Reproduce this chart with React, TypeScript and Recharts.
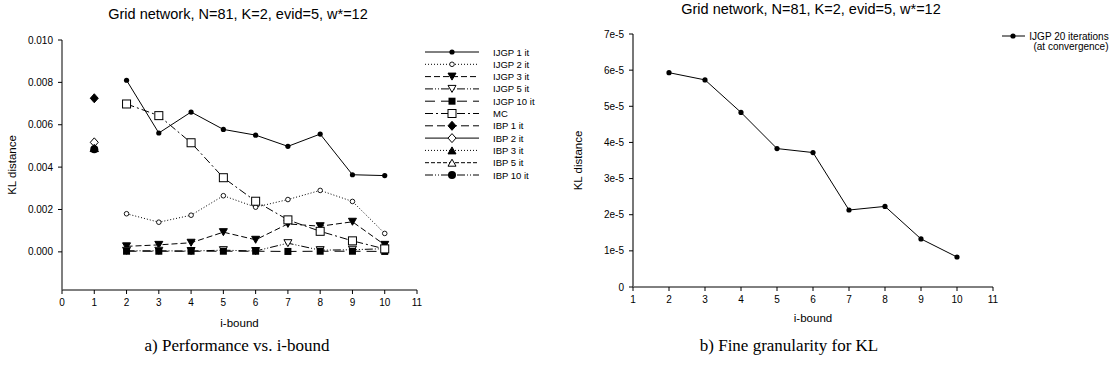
import React from "react";
import { Line, LineChart, XAxis, YAxis } from "recharts";

const FONT = "'Liberation Sans', Arial, sans-serif";
const SERIF = "'Liberation Serif', 'Times New Roman', serif";

// left chart: KL distance per i-bound
const iBounds = [2, 3, 4, 5, 6, 7, 8, 9, 10];
const ijgp1 = [0.0081, 0.00561, 0.0066, 0.00578, 0.00551, 0.00498, 0.00556, 0.00364, 0.0036];
const ijgp2 = [0.0018, 0.0014, 0.00173, 0.00265, 0.00211, 0.00247, 0.0029, 0.00238, 0.00087];
const ijgp3 = [0.00026, 0.00033, 0.00043, 0.00093, 0.00057, 0.00132, 0.00121, 0.00142, 0.00033];
const ijgp5 = [0.00005, 0.00005, 0.00004, 0.00008, 0.00004, 0.00041, 0.00008, 0.0001, 0.00015];
const ijgp10 = [0.00003, 0.00003, 0.00003, 0.00003, 0.00003, 0.00002, 0.00003, 0.00003, 0.00002];
const mc = [0.00698, 0.00643, 0.00515, 0.0035, 0.00239, 0.00151, 0.00097, 0.00052, 0.00014];

// IBP only at i-bound 1
const ibpBound = 1;
const ibpKeys = ["ibp1", "ibp2", "ibp3", "ibp5", "ibp10"];
const ibpValues = [0.00725, 0.00517, 0.0049, 0.0049, 0.00484];

const leftXTicks = [0, 1, 2, 3, 4, 5, 6, 7, 8, 9, 10, 11];
const leftYTicks = [0, 0.002, 0.004, 0.006, 0.008, 0.01];

// right chart: IJGP 20 iterations
const ijgp20 = [5.93e-5, 5.73e-5, 4.83e-5, 3.83e-5, 3.72e-5, 2.13e-5, 2.23e-5, 1.33e-5, 0.83e-5];
const rightXTicks = [1, 2, 3, 4, 5, 6, 7, 8, 9, 10, 11];
const rightYTicks = [0, 1e-5, 2e-5, 3e-5, 4e-5, 5e-5, 6e-5, 7e-5];

const series = [
  { key: "ijgp1", name: "IJGP 1 it", dash: undefined, shape: "dot" },
  { key: "ijgp2", name: "IJGP 2 it", dash: "1 2", shape: "circle" },
  { key: "ijgp3", name: "IJGP 3 it", dash: "6 3", shape: "triDown" },
  { key: "ijgp5", name: "IJGP 5 it", dash: "8 2 1 2 1 2", shape: "triDownOpen" },
  { key: "ijgp10", name: "IJGP 10 it", dash: "10 6", shape: "square" },
  { key: "mc", name: "MC", dash: "8 3 2 3", shape: "squareOpen" },
  { key: "ibp1", name: "IBP 1 it", dash: "8 4", shape: "diamond" },
  { key: "ibp2", name: "IBP 2 it", dash: undefined, shape: "diamondOpen" },
  { key: "ibp3", name: "IBP 3 it", dash: "1 2", shape: "tri" },
  { key: "ibp5", name: "IBP 5 it", dash: "4 2", shape: "triOpen" },
  { key: "ibp10", name: "IBP 10 it", dash: "8 2 1 2 1 2", shape: "bigDot" },
];

const leftData: Record<string, number>[] = [
  Object.fromEntries([["x", ibpBound], ...ibpKeys.map((k, i) => [k, ibpValues[i]])]),
  ...iBounds.map((b, i) => ({
    x: b,
    ijgp1: ijgp1[i],
    ijgp2: ijgp2[i],
    ijgp3: ijgp3[i],
    ijgp5: ijgp5[i],
    ijgp10: ijgp10[i],
    mc: mc[i],
  })),
];

const rightData = iBounds.map((b, i) => ({ x: b, ijgp20: ijgp20[i] }));

function Marker({ shape, cx, cy }: { shape: string; cx: number; cy: number }) {
  const k = "#000";
  switch (shape) {
    case "dot":
      return <circle cx={cx} cy={cy} r={2.6} fill={k} />;
    case "circle":
      return <circle cx={cx} cy={cy} r={2.3} fill="#fff" stroke={k} strokeWidth={0.9} />;
    case "triDown":
    case "triDownOpen":
      return (
        <polygon
          points={`${cx - 4},${cy - 3.5} ${cx + 4},${cy - 3.5} ${cx},${cy + 3.5}`}
          fill={shape === "triDown" ? k : "#fff"}
          stroke={k}
          strokeWidth={1}
        />
      );
    case "tri":
    case "triOpen":
      return (
        <polygon
          points={`${cx - 4},${cy + 3.5} ${cx + 4},${cy + 3.5} ${cx},${cy - 3.5}`}
          fill={shape === "tri" ? k : "#fff"}
          stroke={k}
          strokeWidth={1}
        />
      );
    case "square":
      return <rect x={cx - 3.5} y={cy - 3.5} width={7} height={7} fill={k} />;
    case "squareOpen":
      return <rect x={cx - 4} y={cy - 4} width={8} height={8} fill="#fff" stroke={k} strokeWidth={1} />;
    case "diamond":
    case "diamondOpen":
      return (
        <polygon
          points={`${cx},${cy - 4.5} ${cx + 4},${cy} ${cx},${cy + 4.5} ${cx - 4},${cy}`}
          fill={shape === "diamond" ? k : "#fff"}
          stroke={k}
          strokeWidth={1}
        />
      );
    case "bigDot":
      return <circle cx={cx} cy={cy} r={4} fill={k} />;
    default:
      return null;
  }
}

const tickStyle = { fill: "#000", fontSize: 10, fontFamily: FONT };
const labelStyle = { fill: "#000", fontSize: 11.5, fontFamily: FONT };

function LeftChart() {
  return (
    <LineChart width={425} height={340} data={leftData} margin={{ top: 40, right: 8, bottom: 10, left: 0 }}>
      <XAxis
        dataKey="x"
        type="number"
        domain={[0, 11]}
        ticks={leftXTicks}
        interval={0}
        allowDataOverflow
        height={40}
        tickSize={4}
        tickMargin={5}
        axisLine={{ stroke: "#000" }}
        tickLine={{ stroke: "#000" }}
        tick={tickStyle}
        label={{ value: "i-bound", position: "insideBottom", offset: 3, style: labelStyle }}
      />
      <YAxis
        type="number"
        domain={[-0.0018, 0.01]}
        ticks={leftYTicks}
        interval={0}
        allowDataOverflow
        width={62}
        tickSize={4}
        tickMargin={5}
        tickFormatter={(v: number) => v.toFixed(3)}
        axisLine={{ stroke: "#555", strokeWidth: 1.5 }}
        tickLine={{ stroke: "#000" }}
        tick={tickStyle}
        label={{ value: "KL distance", angle: -90, position: "insideLeft", offset: 12, textAnchor: "middle", style: labelStyle }}
      />
      {series.map((s) => (
        <Line
          key={s.key}
          dataKey={s.key}
          name={s.name}
          type="linear"
          stroke="#000"
          strokeWidth={1}
          strokeDasharray={s.dash}
          isAnimationActive={false}
          dot={(p: any) =>
            p.cy == null || p.value == null ? (
              <g key={`${s.key}-${p.index}`} />
            ) : (
              <Marker key={`${s.key}-${p.index}`} shape={s.shape} cx={p.cx} cy={p.cy} />
            )
          }
          activeDot={false}
        />
      ))}
    </LineChart>
  );
}

function RightChart() {
  return (
    <LineChart width={450} height={340} data={rightData} margin={{ top: 34, right: 17, bottom: 13, left: 0 }}>
      <XAxis
        dataKey="x"
        type="number"
        domain={[1, 11]}
        ticks={rightXTicks}
        interval={0}
        allowDataOverflow
        height={40}
        tickSize={4}
        tickMargin={5}
        axisLine={{ stroke: "#000" }}
        tickLine={{ stroke: "#000" }}
        tick={tickStyle}
        label={{ value: "i-bound", position: "insideBottom", offset: 5, style: labelStyle }}
      />
      <YAxis
        type="number"
        domain={[0, 7e-5]}
        ticks={rightYTicks}
        interval={0}
        allowDataOverflow
        width={73}
        tickSize={4}
        tickMargin={5}
        tickFormatter={(v: number) => (v === 0 ? "0" : `${Math.round(v * 1e5)}e-5`)}
        axisLine={{ stroke: "#777", strokeWidth: 2 }}
        tickLine={{ stroke: "#000" }}
        tick={tickStyle}
        label={{ value: "KL distance", angle: -90, position: "insideLeft", offset: 18, textAnchor: "middle", style: labelStyle }}
      />
      <Line
        dataKey="ijgp20"
        name="IJGP 20 iterations (at convergence)"
        type="linear"
        stroke="#000"
        strokeWidth={1}
        isAnimationActive={false}
        dot={(p: any) => <Marker key={p.index} shape="dot" cx={p.cx} cy={p.cy} />}
        activeDot={false}
      />
    </LineChart>
  );
}

export default function App() {
  return (
    <div style={{ position: "absolute", left: 0, top: 0, width: 1113, height: 376, background: "#fff" }}>
      <div style={{ position: "absolute", left: 0, top: 0 }}>
        <LeftChart />
      </div>
      <div style={{ position: "absolute", left: 560, top: 0 }}>
        <RightChart />
      </div>
      <svg width={1113} height={376} style={{ position: "absolute", left: 0, top: 0, pointerEvents: "none" }}>
        <text x={238} y={14} textAnchor="middle" dominantBaseline="central" fontSize={14.5} fontFamily={FONT}>
          Grid network, N=81, K=2, evid=5, w*=12
        </text>
        <text x={811} y={9} textAnchor="middle" dominantBaseline="central" fontSize={14.5} fontFamily={FONT}>
          Grid network, N=81, K=2, evid=5, w*=12
        </text>
        {series.map((s, i) => {
          const y = 52 + i * 12.3;
          return (
            <g key={s.key}>
              <line x1={425} x2={479} y1={y} y2={y} stroke="#000" strokeWidth={1} strokeDasharray={s.dash} />
              <Marker shape={s.shape} cx={452} cy={y} />
              <text x={493} y={y} dominantBaseline="central" fontSize={9.5} fontFamily={FONT}>
                {s.name}
              </text>
            </g>
          );
        })}
        <line x1={1002} x2={1025} y1={36} y2={36} stroke="#000" strokeWidth={1} />
        <Marker shape="dot" cx={1013} cy={36} />
        <text x={1069} y={36} textAnchor="middle" dominantBaseline="central" fontSize={10} fontFamily={FONT}>
          IJGP 20 iterations
        </text>
        <text x={1071} y={46.5} textAnchor="middle" dominantBaseline="central" fontSize={10} fontFamily={FONT}>
          (at convergence)
        </text>
        <text x={237} y={345} textAnchor="middle" dominantBaseline="central" fontSize={17} fontFamily={SERIF}>
          a) Performance vs. i-bound
        </text>
        <text x={789} y={345} textAnchor="middle" dominantBaseline="central" fontSize={17} fontFamily={SERIF}>
          b) Fine granularity for KL
        </text>
      </svg>
    </div>
  );
}
